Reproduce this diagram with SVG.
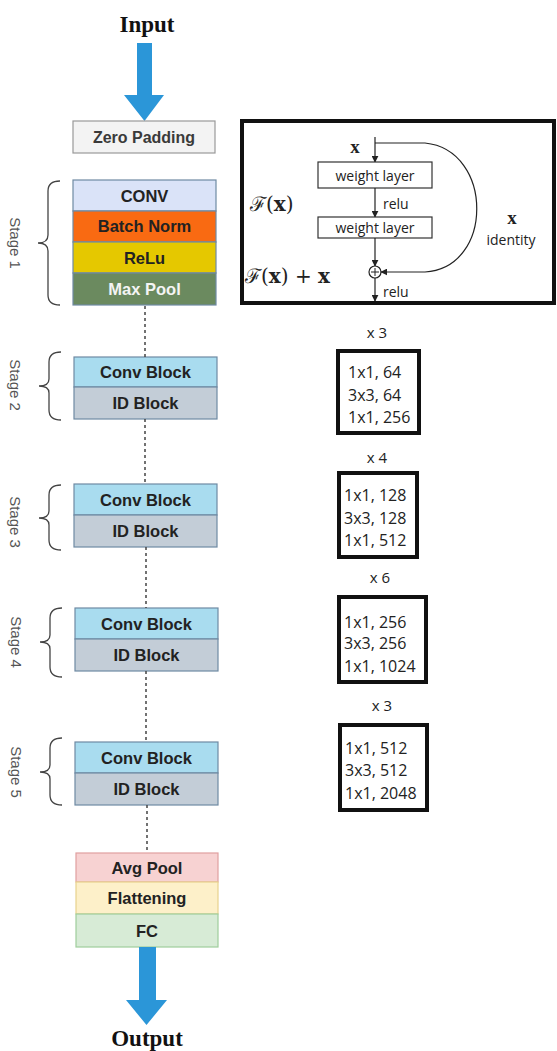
<svg xmlns="http://www.w3.org/2000/svg" width="557" height="1051" viewBox="0 0 557 1051">
<style>
.lbl{font-family:"Liberation Sans",Arial,sans-serif;font-weight:bold;font-size:16.5px;fill:#222;text-anchor:middle;dominant-baseline:central}
.stage{font-family:"Liberation Sans",Arial,sans-serif;font-size:15px;fill:#555;text-anchor:middle;dominant-baseline:central}
.blk{stroke:#6f8aa3;stroke-width:1.2}
.brace{fill:none;stroke:#444;stroke-width:1.3}
.dot{stroke:#444;stroke-width:1.5;stroke-dasharray:3 3;fill:none}
.io{font-family:"Liberation Serif","Times New Roman",serif;font-weight:bold;font-size:23px;fill:#111;text-anchor:middle}
.spec{font-family:"Open Sans","Liberation Sans",sans-serif;font-size:16px;fill:#222}
.rep{font-family:"Open Sans","Liberation Sans",sans-serif;font-size:15px;fill:#222;text-anchor:middle;dominant-baseline:central}
.sbox{fill:#fff;stroke:#111;stroke-width:4}
.wl{fill:#fff;stroke:#333;stroke-width:1.2}
.small{font-family:"Open Sans","Liberation Sans",sans-serif;font-size:14px;fill:#222;dominant-baseline:central}
.math{font-family:"DejaVu Serif","Liberation Serif",serif;font-size:20px;fill:#222;dominant-baseline:central}
.ln{stroke:#222;stroke-width:1.2;fill:none}
</style>
<defs>
<marker id="ah" viewBox="0 0 10 10" refX="9" refY="5" markerWidth="7" markerHeight="7" orient="auto" markerUnits="userSpaceOnUse">
<path d="M0,0 L10,5 L0,10 z" fill="#222"/>
</marker>
</defs>
<rect width="557" height="1051" fill="#fff"/>

<g id="input">
<text class="io" x="147" y="32">Input</text>
<path d="M137,43 H152 V95 H164 L144.5,121 L124,95 H137 Z" fill="#2b96d8"/>
</g>

<g id="zero-padding">
<rect x="73" y="121" width="142" height="32" fill="#f3f3f3" stroke="#999" stroke-width="1.2"/>
<text class="lbl" x="144" y="137" style="fill:#3a3a3a;font-size:16px">Zero  Padding</text>
</g>

<g id="stage1">
<rect x="73" y="180" width="143" height="31" fill="#dae3f8" class="blk"/>
<text class="lbl" x="144.5" y="195.5">CONV</text>
<rect x="73" y="211" width="143" height="31" fill="#f96a12" class="blk" stroke="#d05a10"/>
<text class="lbl" x="144.5" y="226">Batch Norm</text>
<rect x="73" y="242" width="143" height="31" fill="#e5c800" class="blk"/>
<text class="lbl" x="144.5" y="257.5">ReLu</text>
<rect x="73" y="273" width="143" height="32" fill="#6b8a5f" class="blk"/>
<text class="lbl" x="144.5" y="289" style="fill:#f4f4f4">Max Pool</text>
<path class="brace" d="M60,181 Q48,181 48,191 L48,235 Q48,243 38,243 Q48,243 48,251 L48,295 Q48,305 60,305"/>
<text class="stage" transform="translate(15,243) rotate(90)">Stage 1</text>
</g>

<g id="stage2">
<rect x="74" y="357" width="143" height="30" fill="#a9dcef" class="blk"/>
<text class="lbl" x="145.5" y="372">Conv Block</text>
<rect x="74" y="387" width="143" height="32" fill="#c3cdd7" class="blk"/>
<text class="lbl" x="145.5" y="403">ID Block</text>
<path class="brace" d="M61,352 Q49,352 49,362 L49,379 Q49,386 39,386 Q49,386 49,393 L49,410 Q49,420 61,420"/>
<text class="stage" transform="translate(15,385) rotate(90)">Stage 2</text>
</g>

<g id="stage3">
<rect x="74" y="484" width="143" height="31" fill="#a9dcef" class="blk"/>
<text class="lbl" x="145.5" y="499.5">Conv Block</text>
<rect x="74" y="515" width="143" height="32" fill="#c3cdd7" class="blk"/>
<text class="lbl" x="145.5" y="531">ID Block</text>
<path class="brace" d="M61,485 Q49,485 49,495 L49,511 Q49,518 39,518 Q49,518 49,525 L49,540 Q49,550 61,550"/>
<text class="stage" transform="translate(15,522) rotate(90)">Stage 3</text>
</g>

<g id="stage4">
<rect x="75" y="608" width="143" height="31" fill="#a9dcef" class="blk"/>
<text class="lbl" x="146.5" y="623.5">Conv Block</text>
<rect x="75" y="639" width="143" height="32" fill="#c3cdd7" class="blk"/>
<text class="lbl" x="146.5" y="655">ID Block</text>
<path class="brace" d="M62,608 Q50,608 50,618 L50,635 Q50,642 40,642 Q50,642 50,649 L50,667 Q50,677 62,677"/>
<text class="stage" transform="translate(16,642) rotate(90)">Stage 4</text>
</g>

<g id="stage5">
<rect x="75" y="742" width="143" height="31" fill="#a9dcef" class="blk"/>
<text class="lbl" x="146.5" y="757.5">Conv Block</text>
<rect x="75" y="773" width="143" height="32" fill="#c3cdd7" class="blk"/>
<text class="lbl" x="146.5" y="789">ID Block</text>
<path class="brace" d="M62,738 Q50,738 50,748 L50,765 Q50,772 40,772 Q50,772 50,779 L50,795 Q50,805 62,805"/>
<text class="stage" transform="translate(16,772) rotate(90)">Stage 5</text>
</g>

<g id="head">
<rect x="76" y="853" width="142" height="29" fill="#f7d2d2" stroke="#e0a0a0" stroke-width="1.2"/>
<text class="lbl" x="147" y="867.5">Avg Pool</text>
<rect x="76" y="882" width="142" height="32" fill="#fdf0c9" stroke="#e8d38e" stroke-width="1.2"/>
<text class="lbl" x="147" y="898">Flattening</text>
<rect x="76" y="914" width="142" height="33" fill="#d7ebd6" stroke="#9fcd9c" stroke-width="1.2"/>
<text class="lbl" x="147" y="930.5">FC</text>
</g>

<g id="output">
<path d="M139,947 H156 V1000 H167 L146.5,1025 L126,1000 H139 Z" fill="#2b96d8"/>
<text class="io" x="147" y="1046">Output</text>
</g>

<g id="connectors">
<line class="dot" x1="145" y1="306" x2="145" y2="357"/>
<line class="dot" x1="145" y1="419" x2="145" y2="484"/>
<line class="dot" x1="146" y1="547" x2="146" y2="608"/>
<line class="dot" x1="146" y1="671" x2="146" y2="742"/>
<line class="dot" x1="147" y1="805" x2="147" y2="853"/>
</g>

<g id="residual-block">
<rect x="242" y="121" width="312" height="182" fill="#fff" stroke="#111" stroke-width="4"/>
<text x="355" y="146" style="font-family:'Liberation Serif',serif;font-weight:bold;font-size:19px;fill:#222;text-anchor:middle;dominant-baseline:central">x</text>
<line class="ln" x1="375" y1="137" x2="375" y2="162" marker-end="url(#ah)"/>
<rect class="wl" x="318" y="162" width="114" height="26"/>
<text class="small" x="375" y="175" text-anchor="middle">weight layer</text>
<line class="ln" x1="375" y1="188" x2="375" y2="217" marker-end="url(#ah)"/>
<text class="small" x="383" y="203">relu</text>
<rect class="wl" x="318" y="217" width="114" height="21"/>
<text class="small" x="375" y="227.5" text-anchor="middle">weight layer</text>
<line class="ln" x1="375" y1="238" x2="375" y2="266" marker-end="url(#ah)"/>
<circle cx="375" cy="272" r="6" fill="#fff" stroke="#222" stroke-width="1.2"/>
<line x1="371" y1="272" x2="379" y2="272" stroke="#222" stroke-width="1"/>
<line x1="375" y1="268" x2="375" y2="276" stroke="#222" stroke-width="1"/>
<line class="ln" x1="375" y1="278" x2="375" y2="301" marker-end="url(#ah)"/>
<text class="small" x="383" y="291">relu</text>
<path class="ln" d="M375,143 H425 C494,150 494,268 425,272 H381" marker-end="url(#ah)"/>
<text class="math" x="250" y="204">ℱ(<tspan font-weight="bold">x</tspan>)</text>
<text class="math" x="245" y="276">ℱ(<tspan font-weight="bold">x</tspan>) + <tspan font-weight="bold">x</tspan></text>
<text x="512" y="217" style="font-family:'Liberation Serif',serif;font-weight:bold;font-size:19px;fill:#222;text-anchor:middle;dominant-baseline:central">x</text>
<text class="small" x="511" y="239" text-anchor="middle">identity</text>
</g>

<g id="spec-stage2">
<text class="rep" x="377" y="332">x 3</text>
<rect class="sbox" x="338" y="351" width="81" height="82"/>
<text class="spec" x="348" y="378">1x1, 64</text>
<text class="spec" x="348" y="401">3x3, 64</text>
<text class="spec" x="348" y="423">1x1, 256</text>
</g>

<g id="spec-stage3">
<text class="rep" x="377" y="457">x 4</text>
<rect class="sbox" x="339" y="473" width="78" height="84"/>
<text class="spec" x="344" y="501">1x1, 128</text>
<text class="spec" x="344" y="524">3x3, 128</text>
<text class="spec" x="344" y="546">1x1, 512</text>
</g>

<g id="spec-stage4">
<text class="rep" x="380" y="577">x 6</text>
<rect class="sbox" x="339" y="597" width="87" height="85"/>
<text class="spec" x="344" y="628">1x1, 256</text>
<text class="spec" x="344" y="649">3x3, 256</text>
<text class="spec" x="344" y="672">1x1, 1024</text>
</g>

<g id="spec-stage5">
<text class="rep" x="382" y="705">x 3</text>
<rect class="sbox" x="340" y="725" width="87" height="85"/>
<text class="spec" x="345" y="754">1x1, 512</text>
<text class="spec" x="345" y="776">3x3, 512</text>
<text class="spec" x="345" y="799">1x1, 2048</text>
</g>
</svg>
